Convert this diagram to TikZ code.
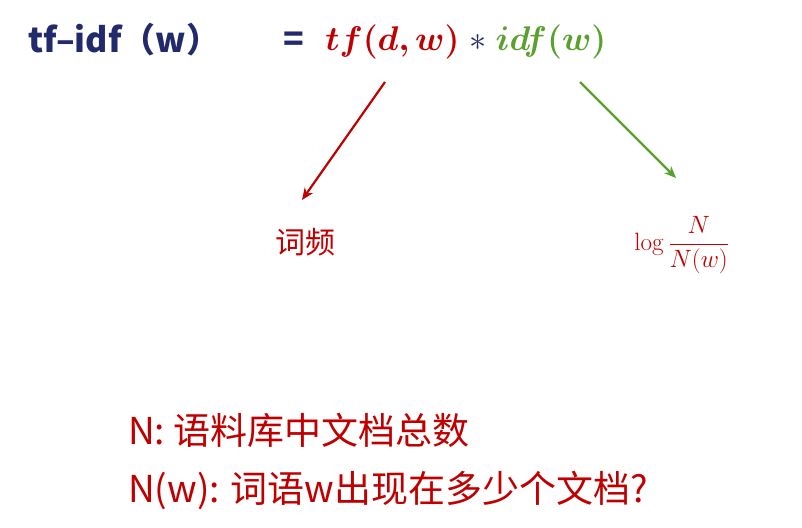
\documentclass[tikz,border=0pt]{standalone}
\usepackage{amsmath,bm}
\usepackage{fontspec}
\usetikzlibrary{arrows.meta}
\newfontfamily\cjk{Noto Sans CJK SC}
\definecolor{navy}{HTML}{232A6B}
\definecolor{myred}{HTML}{C00000}
\definecolor{mygreen}{HTML}{5AA02C}
\begin{document}
\begin{tikzpicture}[x=1pt,y=-1pt,
  arr/.style={line width=2.2pt,-{Stealth[length=12pt,width=10pt]}},
  txt/.style={inner sep=0pt,anchor=west}]
\useasboundingbox[fill=white] (0,0) rectangle (802,527);
\node[txt,text=navy] (t) at (28,40) {\cjk\bfseries\fontsize{34}{40}\selectfont tf–idf（w）};
\node[txt,text=navy] (eq) at (283,42) {\cjk\bfseries\fontsize{34}{40}\selectfont =};
\node[txt,scale=1.65,transform shape] (f) at (325,42) {\huge $\color{myred}\bm{tf(d,w)}\;\color{navy}{*}\;\color{mygreen}\bm{idf(w)}$};
\coordinate (a1) at (385,82);
\coordinate (a2) at (580,82);
\node[text=myred,inner sep=0pt] (cp) at (305,242) {\cjk\fontsize{30}{34}\selectfont 词频};
\node[text=myred,inner sep=0pt,scale=1.45,transform shape] (lg) at (682,245) {\LARGE $\log\dfrac{N}{N(w)}$};
\draw[arr,myred] (a1) -- (302,200);
\draw[arr,mygreen] (a2) -- (676,178);
\node[txt,text=myred] (n1) at (128,430) {\cjk\fontsize{37}{42}\selectfont N: 语料库中文档总数};
\node[txt,text=myred] (n2) at (128,490) {\cjk\fontsize{37}{42}\selectfont N(w): 词语w出现在多少个文档?};
\end{tikzpicture}
\end{document}
